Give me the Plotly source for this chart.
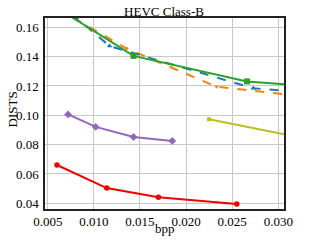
import plotly.graph_objects as go

# Data
red_x = [0.0060, 0.0114, 0.0170, 0.0255]
red_y = [0.0661, 0.0504, 0.0441, 0.0395]

purple_x = [0.0072, 0.0102, 0.0143, 0.0185]
purple_y = [0.1006, 0.0921, 0.0852, 0.0825]

olive_x = [0.0225, 0.0400]
olive_y = [0.0973, 0.0753]

green_x = [0.0061, 0.0143, 0.0266, 0.0400]
green_y = [0.1729, 0.1405, 0.1231, 0.1165]

blue_x = [0.0061, 0.0117, 0.0273, 0.0400]
blue_y = [0.1773, 0.1472, 0.1184, 0.1121]

orange_x = [0.0061, 0.0135, 0.0233, 0.0400]
orange_y = [0.1726, 0.1457, 0.1195, 0.1077]

x_ticks = [0.005, 0.010, 0.015, 0.020, 0.025, 0.030]
y_ticks = [0.04, 0.06, 0.08, 0.10, 0.12, 0.14, 0.16]

fig = go.Figure()

fig.add_trace(go.Scatter(x=orange_x, y=orange_y, mode="lines+markers",
                         line=dict(color="#ff7f0e", width=2, dash="dash"),
                         marker=dict(symbol="triangle-down", size=4, color="#ff7f0e")))
fig.add_trace(go.Scatter(x=blue_x, y=blue_y, mode="lines+markers",
                         line=dict(color="#1f77b4", width=2, dash="dash"),
                         marker=dict(symbol="triangle-up", size=5, color="#1f77b4")))
fig.add_trace(go.Scatter(x=green_x, y=green_y, mode="lines+markers",
                         line=dict(color="#2ca02c", width=2),
                         marker=dict(symbol="square", size=6, color="#2ca02c")))
fig.add_trace(go.Scatter(x=olive_x, y=olive_y, mode="lines+markers",
                         line=dict(color="#bcbd22", width=2),
                         marker=dict(symbol="square", size=4, color="#bcbd22")))
fig.add_trace(go.Scatter(x=purple_x, y=purple_y, mode="lines+markers",
                         line=dict(color="#9467bd", width=2),
                         marker=dict(symbol="diamond", size=6, color="#9467bd")))
fig.add_trace(go.Scatter(x=red_x, y=red_y, mode="lines+markers",
                         line=dict(color="#f00000", width=2),
                         marker=dict(symbol="circle", size=5.5, color="#f00000")))

serif = "Liberation Serif"
W, H = 309, 247
L, R, T, B = 45, 25, 18, 38
PW, PH = W - L - R, H - T - B

fig.update_layout(
    width=W, height=H,
    margin=dict(l=L, r=R, t=T, b=B, autoexpand=False),
    paper_bgcolor="white", plot_bgcolor="white",
    showlegend=False,
    font=dict(family=serif, size=13, color="black"),
    title=dict(text="HEVC Class-B", x=164/W, xanchor="center", y=1 - 11/H, yanchor="middle",
               font=dict(family=serif, size=13, color="black")),
    annotations=[
        dict(text="DISTS", xref="paper", yref="paper", x=(12.5 - L)/PW, y=(T + PH - 110)/PH,
             xanchor="center", yanchor="middle", textangle=-90, showarrow=False,
             font=dict(family=serif, size=13, color="black")),
        dict(text="bpp", xref="paper", yref="paper", x=(165 - L)/PW, y=-(229 - T - PH)/PH,
             xanchor="center", yanchor="middle", showarrow=False,
             font=dict(family=serif, size=13, color="black")),
    ],
)
fig.update_xaxes(
    range=[0.0047, 0.03062], tickvals=x_ticks, tickformat=".3f",
    showgrid=True, gridcolor="#c8c8c8", gridwidth=1,
    showline=True, linecolor="#222222", linewidth=1.5, mirror=True,
    ticks="",
    zeroline=False, automargin=False,
    tickfont=dict(family=serif, size=13),
)
fig.update_yaxes(
    range=[0.03611, 0.16634], tickvals=y_ticks, tickformat=".2f",
    showgrid=True, gridcolor="#c8c8c8", gridwidth=1,
    showline=True, linecolor="#222222", linewidth=1.5, mirror=True,
    ticks="", ticklabelstandoff=2,
    zeroline=False, automargin=False,
    tickfont=dict(family=serif, size=13),
)

fig.write_html("out.html", config={"displayModeBar": False},
               post_script="document.body.style.margin='0';")
